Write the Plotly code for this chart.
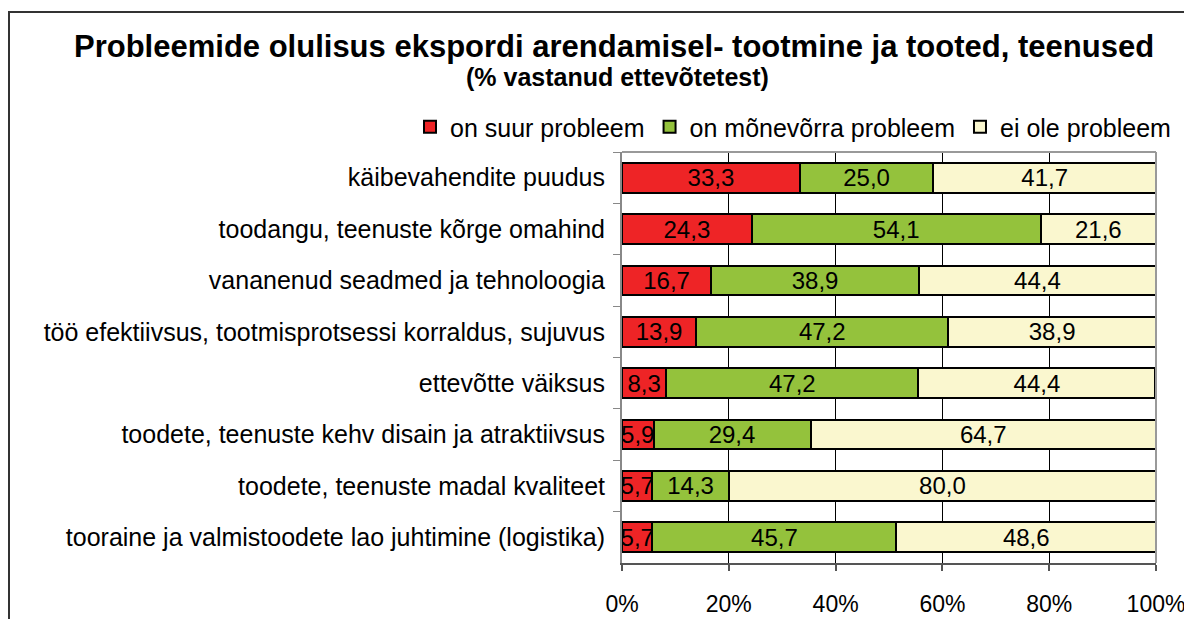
import plotly.graph_objects as go

categories = [
    "käibevahendite puudus",
    "toodangu, teenuste kõrge omahind",
    "vananenud seadmed ja tehnoloogia",
    "töö efektiivsus, tootmisprotsessi korraldus, sujuvus",
    "ettevõtte väiksus",
    "toodete, teenuste kehv disain ja atraktiivsus",
    "toodete, teenuste madal kvaliteet",
    "tooraine ja valmistoodete lao juhtimine (logistika)",
]
suur = [33.3, 24.3, 16.7, 13.9, 8.3, 5.9, 5.7, 5.7]
monev = [25.0, 54.1, 38.9, 47.2, 47.2, 29.4, 14.3, 45.7]
ei_ole = [41.7, 21.6, 44.4, 38.9, 44.4, 64.7, 80.0, 48.6]
series_names = ["on suur probleem", "on mõnevõrra probleem", "ei ole probleem"]
tick_vals = [0, 20, 40, 60, 80, 100]
tick_text = ["0%", "20%", "40%", "60%", "80%", "100%"]

colors = ["#EE2426", "#94C23C", "#FAF7CF"]
FONT = "Liberation Sans, Arial, sans-serif"

# page body has an 8px margin: figure fits the window exactly
W, H = 1184, 611
L, R, T, B = 614, 36, 144, 56
pw, ph = W - L - R, H - T - B

def px(x):
    return (x - L) / pw

def py(y):
    return (H - B - y) / ph

fig = go.Figure()
for name, vals, col in zip(series_names, [suur, monev, ei_ole], colors):
    fig.add_trace(go.Bar(
        y=categories, x=vals, name=name, orientation="h",
        marker=dict(color=col, line=dict(color="black", width=2)),
        text=vals, texttemplate="%{x:.1f}", textposition="inside",
        insidetextanchor="middle",
        textfont=dict(color="black", size=24, family=FONT),
        cliponaxis=False,
    ))

fig.update_layout(
    width=W, height=H, barmode="stack", bargap=0.42,
    separators=", ",
    margin=dict(l=L, r=R, t=T, b=B, pad=0, autoexpand=False),
    paper_bgcolor="white", plot_bgcolor="white",
    font=dict(family=FONT, size=22, color="black"),
    uniformtext=dict(minsize=24, mode="show"),
    legend=dict(orientation="h", x=px(402), xanchor="left", y=py(119), yanchor="middle",
                font=dict(size=25), itemwidth=30, traceorder="normal",
                bgcolor="rgba(0,0,0,0)"),
    xaxis=dict(range=[0, 100], tickvals=tick_vals, ticktext=tick_text,
               showgrid=True, gridcolor="black", gridwidth=1,
               showline=True, linecolor="#555", linewidth=2,
               ticks="outside", ticklen=6, tickcolor="#555", tickwidth=2,
               ticklabelstandoff=13,
               tickfont=dict(size=23), zeroline=False, fixedrange=True),
    yaxis=dict(autorange="reversed", showline=True, linecolor="#888", linewidth=2,
               ticks="outside", tickson="boundaries", ticklen=7, tickcolor="#888",
               ticklabelstandoff=10,
               tickfont=dict(size=25), showgrid=False, fixedrange=True),
    showlegend=True,
)

fig.add_annotation(text="<b>Probleemide olulisus ekspordi arendamisel- tootmine ja tooted, teenused</b>",
                   xref="paper", yref="paper", x=px(606), y=py(38), xanchor="center", yanchor="middle",
                   showarrow=False, font=dict(size=31, family=FONT))
fig.add_annotation(text="<b>(% vastanud ettevõtetest)</b>",
                   xref="paper", yref="paper", x=px(609), y=py(69), xanchor="center", yanchor="middle",
                   showarrow=False, font=dict(size=25, family=FONT))

# plot-area top/right border
fig.add_shape(type="line", xref="paper", yref="paper", x0=0, x1=1, y0=1, y1=1,
              line=dict(color="#999", width=2))
fig.add_shape(type="line", xref="paper", yref="paper", x0=1, x1=1, y0=0, y1=1,
              line=dict(color="#999", width=2))
# outer chart frame
fig.add_shape(type="rect", xref="paper", yref="paper", x0=px(1), x1=px(1300), y0=py(700), y1=py(4),
              line=dict(color="#333", width=2), layer="below")

fig.write_html("out.html")
